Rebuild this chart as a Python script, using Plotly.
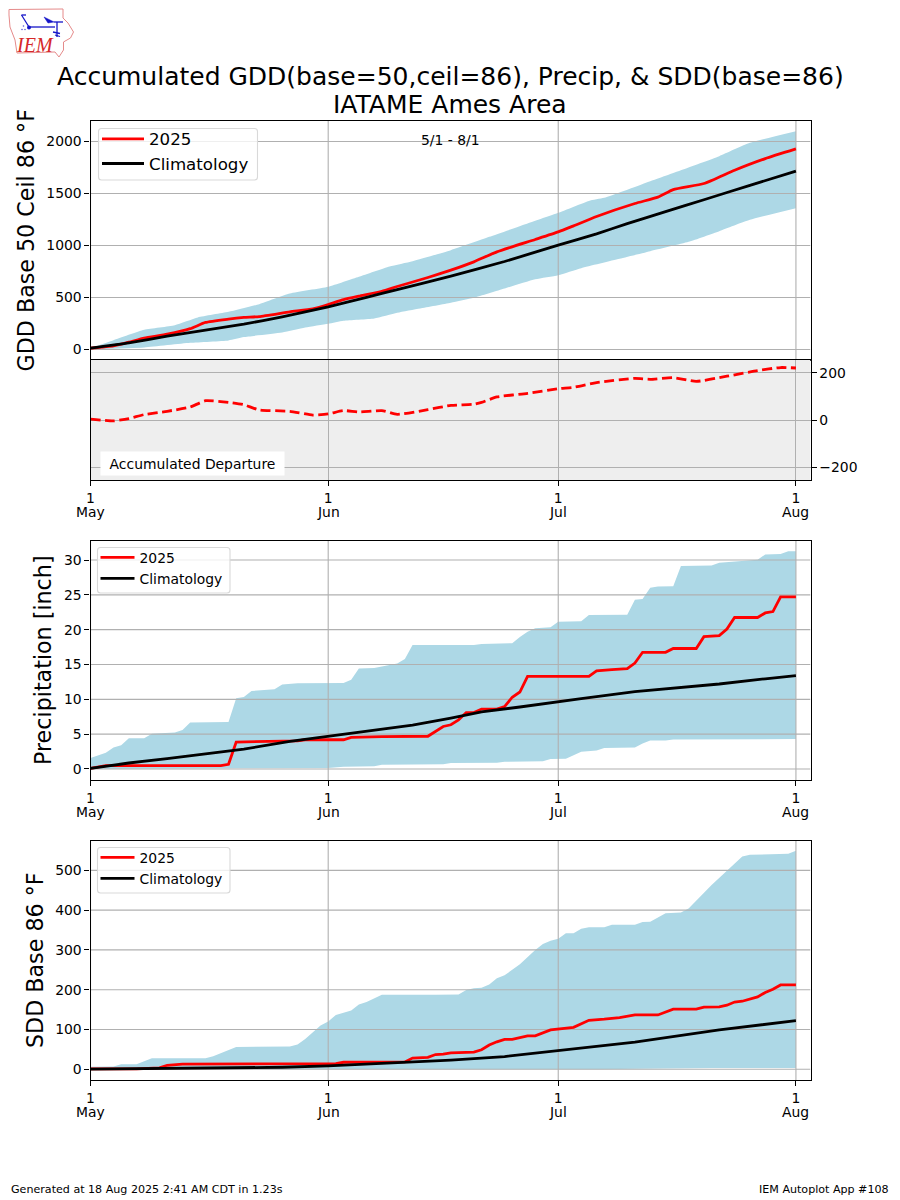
import pandas as pd
import plotly.graph_objects as go

START = pd.Timestamp("2025-05-01")
TICK_DAYS = [0, 31, 61, 92]
TICK_DAY_TEXT = ["1", "1", "1", "1"]
TICK_MONTHS = ["May", "Jun", "Jul", "Aug"]
END_DAY = 93.9

GDD_OBS_D = [0,3,5,7,10,13,15,18,20,22,26,29,31,33,35,38,40,44,47,50,53,58,61,63,66,71,74,76,80,84,88,92]
GDD_OBS_V = [13,35,70,110,147,200,260,292,308,317,362,391,433,480,513,560,606,692,763,843,939,1058,1131,1189,1279,1404,1465,1538,1596,1724,1836,1929]
GDD_CLIM_D = [0,5,10,15,20,25,31,36,40,47,54,61,66,70,75,80,86,92]
GDD_CLIM_V = [13,64,128,186,244,314,410,502,576,705,846,1003,1112,1210,1325,1440,1578,1715]
GDD_HI_D = [0,3,7,11,14,18,22,26,31,35,39,42,47,52,57,61,65,67,73,77,82,86,92]
GDD_HI_V = [13,90,190,234,308,362,436,538,603,699,798,849,955,1083,1211,1314,1429,1458,1618,1724,1859,1987,2099]
GDD_LO_D = [0,7,13,18,20,25,28,31,33,37,40,43,47,50,54,58,61,64,69,73,78,82,86,92]
GDD_LO_V = [0,19,64,87,119,163,211,247,276,298,353,394,449,497,586,676,715,782,872,945,1035,1138,1247,1359]

DEP_D = [0,3,5,7,10,13,15,18,20,22,26,29,31,33,35,38,40,44,47,50,51,53,57,61,63,66,71,73,76,79,83,87,90,92]
DEP_V = [4,-4,6,23,37,55,82,75,65,43,37,21,26,40,34,40,24,44,62,67,75,98,113,133,139,159,177,173,180,164,186,210,223,221]

PR_OBS_D = [0,2,17,18,19,23,27,28,33,34,37,38,44,46,47,48,49,50,51,53,54,55,56,57,65,66,68,70,71,72,75,76,79,80,82,83,84,87,88,89,90,92]
PR_OBS_V = [0.1,0.48,0.48,0.67,3.86,4.0,4.05,4.2,4.2,4.55,4.55,4.65,4.7,6.1,6.35,7.05,8.1,8.1,8.6,8.6,8.95,10.3,11.05,13.3,13.3,14.1,14.25,14.4,15.2,16.75,16.75,17.3,17.3,19,19.15,20.1,21.75,21.75,22.4,22.6,24.7,24.7]
PR_CLIM_D = [0,5,10,14,20,26,31,38,42,47,51,56,61,64,71,74,77,82,88,92]
PR_CLIM_V = [0.1,0.86,1.5,2.05,2.86,3.95,4.7,5.8,6.3,7.3,8.2,8.9,9.67,10.1,11.1,11.4,11.7,12.2,12.95,13.4]
PR_HI_D = [0,2,3,4,5,7,8,11,12,13,18,19,20,21,24,25,27,33,34,35,37,40,41,42,50,51,55,56,57,58,60,61,64,65,70,71,72,73,74,76,77,81,82,87,88,90,91,92]
PR_HI_V = [1.57,2.33,3.1,3.4,4.43,4.43,5.05,5.24,5.6,6.67,6.76,10.14,10.33,11.2,11.43,12.14,12.3,12.33,12.8,14.43,14.48,15.14,15.8,17.8,17.8,17.95,18.05,18.95,19.7,20.2,20.33,21.14,21.2,22.1,22.14,24.3,24.4,26,26.2,26.24,29.14,29.2,29.6,30.05,30.8,30.86,31.24,31.24]
PR_LO_D = [0,19,20,31,33,37,38,46,47,53,54,59,60,62,63,64,66,67,71,72,73,75,76,92]
PR_LO_V = [0,0,0.1,0.14,0.33,0.38,0.62,0.67,0.86,0.9,1.05,1.1,1.43,1.48,1.95,2.48,2.67,3,3.1,3.67,4.1,4.1,4.24,4.29]

SD_OBS_D = [0,6,9,10,12,31,32,33,41,42,44,45,46,47,50,51,52,53,54,55,57,58,60,63,65,67,69,71,74,76,79,80,82,83,84,85,87,88,89,90,92]
SD_OBS_V = [1,1,3.4,10,13,14,14,17.6,18.4,28,30,37,38,41,43,49,61,69,75,75,84,84,99,105.5,123,126,130,136.5,136.5,151,151,156,157,161,169,171,182,193,201,212,212]
SD_CLIM_D = [0,15,25,31,40,47,54,61,71,82,92]
SD_CLIM_V = [0.5,3,5,8.4,17,23,32,47,68,99,122]
SD_HI_D = [0,3,4,6,8,15,16,18,19,26,27,28,30,31,32,34,35,36,38,45,47,48,49,50,51,52,53,54,55,56,58,59,60,61,62,63,64,65,67,68,71,72,73,74,75,77,78,81,83,85,86,91,92]
SD_HI_V = [6,7,12.6,12.6,27.6,27.6,33,48,56,57,62,76,110,120,136.5,148,163,169,187,187,188,188,199,203.5,205,213,229,236,250,264,300,315,323,328,342,342,353,357,357,363,363,370,371,381,392,394,404,463,498,535,539,542,549]
SD_LO_D = [0,66,81,92]
SD_LO_V = [0,0,3,3]

DEP_TICKS = [-200, 0, 200]
GDD_TICKS = [0, 500, 1000, 1500, 2000]
PR_TICKS = [0, 5, 10, 15, 20, 25, 30]
SD_TICKS = [0, 100, 200, 300, 400, 500]

RED = "#ff0000"
BLUE = "#add8e6"
GRID = "#b0b0b0"
FONT = "DejaVu Sans"
PAGE_MARGIN = 8            # the browser's body margin
W, H = 900 - 2 * PAGE_MARGIN, 1190

X0, X1 = 90.5, 810.5
PANELS = {
    "": dict(top=120.5, bottom=360, yr=[-101, 2202], ticks=GDD_TICKS),
    "2": dict(top=360, bottom=480, yr=[-255, 255], ticks=DEP_TICKS),
    "3": dict(top=540.5, bottom=780, yr=[-1.58, 32.8], ticks=PR_TICKS),
    "4": dict(top=840.5, bottom=1080, yr=[-27, 575], ticks=SD_TICKS),
}
MONTH_ROWS = {"2": 512, "3": 812, "4": 1112}


def dates(days):
    return [START + pd.Timedelta(days=int(d)) for d in days]


fig = go.Figure()


def add_grid(n):
    """Grid drawn as traces so that it sits above the band and below the lines."""
    p = PANELS[n]
    xs, ys = [], []
    for t in p["ticks"]:
        xs += [START, START + pd.Timedelta(days=END_DAY), None]
        ys += [t, t, None]
    for d in dates(TICK_DAYS):
        xs += [d, d, None]
        ys += [p["yr"][0], p["yr"][1], None]
    fig.add_trace(go.Scatter(x=xs, y=ys, mode="lines", line=dict(color=GRID, width=1.1),
                             xaxis="x" + n, yaxis="y" + n, showlegend=False, hoverinfo="skip"))


def add_panel(n, legend, lo_d, lo_v, hi_d, hi_v, ob_d, ob_v, cl_d, cl_v, shape="linear"):
    s = dict(shape=shape, smoothing=0.5) if shape == "spline" else dict(shape=shape)
    fig.add_trace(go.Scatter(x=dates(lo_d), y=lo_v, mode="lines", line=dict(width=0, color=BLUE, **s),
                             xaxis="x" + n, yaxis="y" + n, showlegend=False, hoverinfo="skip"))
    fig.add_trace(go.Scatter(x=dates(hi_d), y=hi_v, mode="lines", line=dict(width=0, color=BLUE, **s),
                             fill="tonexty", fillcolor=BLUE,
                             xaxis="x" + n, yaxis="y" + n, showlegend=False, hoverinfo="skip"))
    add_grid(n)
    fig.add_trace(go.Scatter(x=dates(ob_d), y=ob_v, mode="lines", name="2025",
                             line=dict(color=RED, width=2.8, **s), legend=legend,
                             xaxis="x" + n, yaxis="y" + n))
    fig.add_trace(go.Scatter(x=dates(cl_d), y=cl_v, mode="lines", name="Climatology",
                             line=dict(color="black", width=2.8, **s), legend=legend,
                             xaxis="x" + n, yaxis="y" + n))


add_panel("", "legend", GDD_LO_D, GDD_LO_V, GDD_HI_D, GDD_HI_V, GDD_OBS_D, GDD_OBS_V, GDD_CLIM_D, GDD_CLIM_V, shape="spline")
fig.add_trace(go.Scatter(x=dates(DEP_D), y=DEP_V, mode="lines", showlegend=False,
                         line=dict(color=RED, width=2.8, dash="10px,4.5px", shape="spline", smoothing=0.5),
                         xaxis="x2", yaxis="y2"))
add_panel("3", "legend2", PR_LO_D, PR_LO_V, PR_HI_D, PR_HI_V, PR_OBS_D, PR_OBS_V, PR_CLIM_D, PR_CLIM_V)
add_panel("4", "legend3", SD_LO_D, SD_LO_V, SD_HI_D, SD_HI_V, SD_OBS_D, SD_OBS_V, SD_CLIM_D, SD_CLIM_V)


def px(x):
    return (x - PAGE_MARGIN) / W


def py(y):
    return 1 - (y - PAGE_MARGIN) / H


layout = dict(
    template="none",
    width=W, height=H, margin=dict(l=0, r=0, t=0, b=0, pad=0), autosize=False,
    paper_bgcolor="white", plot_bgcolor="white",
    font=dict(family=FONT, size=13.9, color="black"),
    hovermode=False,
)

for n, p in PANELS.items():
    layout[f"xaxis{n}"] = dict(
        domain=[px(X0), px(X1)], anchor="y" + n, type="date", automargin=False,
        range=[START, START + pd.Timedelta(days=END_DAY)],
        tickmode="array", tickvals=dates(TICK_DAYS),
        ticktext=TICK_DAY_TEXT if n != "" else ["", "", "", ""],
        ticks="outside" if n != "" else "", ticklen=5, tickwidth=1.1, tickcolor="black",
        showline=True, linecolor="black", linewidth=1.1, mirror=True,
        showgrid=(n == "2"), gridcolor=GRID, gridwidth=1.1, zeroline=False,
        tickfont=dict(size=13.9, family=FONT),
    )
    layout[f"yaxis{n}"] = dict(
        domain=[py(p["bottom"]), py(p["top"])], anchor="x" + n, automargin=False,
        range=p["yr"], tickmode="array", tickvals=p["ticks"],
        side="right" if n == "2" else "left",
        ticks="outside", ticklen=5, tickwidth=1.1, tickcolor="black",
        showline=True, linecolor="black", linewidth=1.1, mirror=True,
        showgrid=(n == "2"), gridcolor=GRID, gridwidth=1.1, zeroline=False,
        tickfont=dict(size=13.9, family=FONT), tickformat="d",
    )

legend_common = dict(bgcolor="rgba(0,0,0,0)", borderwidth=0,
                     xanchor="left", yanchor="top", xref="paper", yref="paper",
                     tracegroupgap=0, traceorder="normal")
layout["legend"] = dict(x=px(97), y=py(121.5), itemwidth=42, font=dict(size=16.67, family=FONT), **legend_common)
layout["legend2"] = dict(x=px(95.5), y=py(541.8), itemwidth=34, font=dict(size=13.9, family=FONT), **legend_common)
layout["legend3"] = dict(x=px(95.5), y=py(841.8), itemwidth=34, font=dict(size=13.9, family=FONT), **legend_common)


def note(text, x, y, size=13.9, xanchor="center", angle=0, color="black", **kw):
    return dict(text=text, x=px(x), y=py(y), xref="paper", yref="paper", showarrow=False,
                xanchor=xanchor, yanchor="middle", textangle=angle,
                font=dict(size=size, family=FONT, color=color), **kw)


annotations = [
    note("Accumulated GDD(base=50,ceil=86), Precip, &amp; SDD(base=86)", 450, 76, size=25),
    note("IATAME Ames Area", 450, 104, size=25),
    note("5/1 - 8/1", 450, 140),
    note("Accumulated Departure", 192.5, 464, bgcolor="white", width=181, height=21),
    note("GDD Base 50 Ceil 86 °F", 26, 240.5, size=22.2, angle=-90),
    note("Precipitation [inch]", 43, 660, size=22.2, angle=-90),
    note("SDD Base 86 °F", 35, 960, size=22.2, angle=-90),
    note("Generated at 18 Aug 2025 2:41 AM CDT in 1.23s", 9, 1189, size=11.1, xanchor="left"),
    note("IEM Autoplot App #108", 891, 1189, size=11.1, xanchor="right"),
    dict(text="<i>IEM</i>", x=px(34.5), y=py(44.5), xref="paper", yref="paper", showarrow=False,
         xanchor="center", yanchor="middle",
         font=dict(size=20, family="Liberation Serif", color="#d62728")),
]
for n, row in MONTH_ROWS.items():
    for d, month in zip(dates(TICK_DAYS), TICK_MONTHS):
        annotations.append(dict(text=month, x=d, y=py(row), xref="x" + n, yref="paper", showarrow=False,
                                xanchor="center", yanchor="middle", font=dict(size=13.9, family=FONT)))
layout["annotations"] = annotations

# Logo sketch: outline of Iowa with a station-model wind barb
LOGO_OUTLINE = [(9,9.5),(63,9),(63,18),(68,23),(73.5,32),(70.5,38),(63.5,42),(63.5,50),(59,57),(55,52),(17,53),(15,40),(10,27),(9,15)]
LOGO_BLUE = [[(29,27),(55,27)], [(29,27),(21.5,15)], [(21.5,15),(26,15)], [(54,22),(63,22)],
             [(57,22),(57,37)], [(53,32),(60,33.5)], [(55,35),(60,36.5)]]
LOGO_FLAG = [(44,17),(54,22),(48,23)]
LOGO_DOTS = [(23.5,26), (22,29.5), (25,29.5)]


def path(points, close=False):
    s = "M " + " L ".join(f"{px(x):.5f},{py(y):.5f}" for x, y in points)
    return s + (" Z" if close else "")


def frame(x0, y0, x1, y1, r=3):
    """Rounded legend frame, in page pixels."""
    p = lambda x, y: f"{px(x):.5f},{py(y):.5f}"
    return (f"M {p(x0+r,y0)} L {p(x1-r,y0)} Q {p(x1,y0)} {p(x1,y0+r)} L {p(x1,y1-r)} Q {p(x1,y1)} {p(x1-r,y1)} "
            f"L {p(x0+r,y1)} Q {p(x0,y1)} {p(x0,y1-r)} L {p(x0,y0+r)} Q {p(x0,y0)} {p(x0+r,y0)} Z")


shapes = [dict(type="path", path=path(LOGO_OUTLINE, True), xref="paper", yref="paper",
               line=dict(color="#e58a8a", width=1))]
for seg in LOGO_BLUE:
    shapes.append(dict(type="path", path=path(seg), xref="paper", yref="paper",
                       line=dict(color="#1515c8", width=1.3)))
shapes.append(dict(type="path", path=path(LOGO_FLAG, True), xref="paper", yref="paper",
                   fillcolor="#1515c8", line=dict(color="#1515c8", width=0.5)))
shapes.append(dict(type="circle", xref="paper", yref="paper", x0=px(27), x1=px(31), y0=py(29.5), y1=py(25.5),
                   fillcolor="#1515c8", line=dict(color="#1515c8", width=0)))
for dx, dy in LOGO_DOTS:
    shapes.append(dict(type="circle", xref="paper", yref="paper", x0=px(dx - 0.8), x1=px(dx + 0.8),
                       y0=py(dy + 0.8), y1=py(dy - 0.8), fillcolor="#5a5ad8", line=dict(width=0)))
# Grey background of the departure panel, beneath its grid
shapes.append(dict(type="rect", xref="x2", yref="y2", x0=START, x1=START + pd.Timedelta(days=END_DAY),
                   y0=-255, y1=255, fillcolor="#eeeeee", line=dict(width=0), layer="below"))
# Legend frames
for box in [(98.5, 128.5, 257.5, 180), (97.5, 547.5, 230, 593), (97.5, 847.5, 230, 893)]:
    shapes.append(dict(type="path", path=frame(*box), xref="paper", yref="paper",
                       fillcolor="rgba(255,255,255,0.8)", line=dict(color="#d9d9d9", width=1.1), layer="above"))
layout["shapes"] = shapes

fig.update_layout(**layout)
fig.write_html("out.html")
